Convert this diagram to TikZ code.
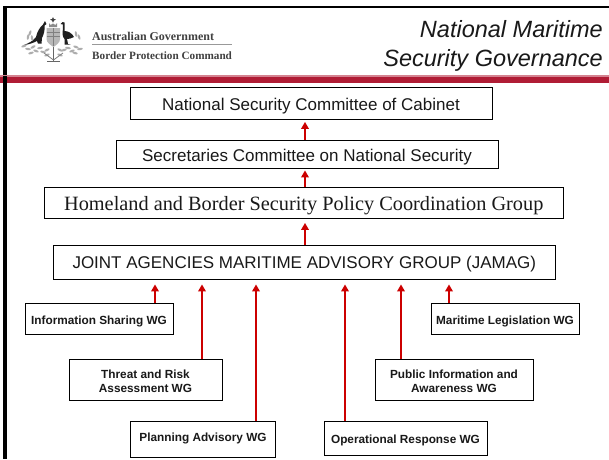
\documentclass[tikz,border=0pt]{standalone}
\usepackage{fontspec}
\setmainfont{Liberation Sans}
\newfontfamily\timesf{Liberation Serif}
\definecolor{bandred}{HTML}{B01C35}
\definecolor{arrowred}{HTML}{CC0000}
\usetikzlibrary{arrows.meta}
\newcommand{\lowered}[2]{\raisebox{-#1pt}[0pt][0pt]{#2}}
\newcommand{\twolines}[2]{\raisebox{-6pt}[0pt][0pt]{\begin{tabular}{@{}c@{}}#1\\#2\end{tabular}}}
\tikzset{
  x=1pt,y=-1pt,
  govbox/.style={draw=black,line width=0.8pt,fill=white,inner sep=0pt,align=center,font=\fontsize{17}{19}\selectfont,text=black!90},
  wgbox/.style={draw=black,line width=0.8pt,fill=white,inner sep=0pt,align=center,font=\fontsize{11.8}{14}\selectfont\bfseries,text=black!90},
  uparrow/.style={draw=arrowred,line width=2.6pt,-{Triangle[length=7pt,width=7.5pt,fill=arrowred]}},
  logotext/.style={inner sep=0pt,anchor=west,font=\timesf\bfseries\selectfont,text=black!75},
  titletext/.style={inner sep=0pt,anchor=east,font=\fontsize{23.5}{27}\selectfont\itshape,text=black!90}
}
\begin{document}
\begin{tikzpicture}
\useasboundingbox (0,0) rectangle (609,459);
\fill[white] (0,0) rectangle (609,459);
% frame
\fill[black] (3.3,6) rectangle (609,8.3);
\fill[black] (3.3,6) rectangle (6.5,459);
% band
\fill[bandred!55!white] (0,75) rectangle (609,77);
\fill[bandred] (0,76.5) rectangle (609,83);
\fill[black] (3.3,76) rectangle (6.5,83);
% crest
\fill[black!75] (53,17) -- (54,19) -- (56,19.5) -- (54,20.5) -- (53,22.5) -- (52,20.5) -- (50,19.5) -- (52,19) -- cycle;
\fill[black!45] (49,23) -- (50.5,25) -- (53,23.5) -- (55.5,25) -- (57,23) -- (57,27) -- (49,27) -- cycle;
\fill[black!28] (46.5,28) -- (60,28) -- (60,39) .. controls (60,43) and (56,45) .. (53.5,47) .. controls (51,45) and (46.5,43) .. (46.5,39) -- cycle;
\draw[black!50,line width=.7pt] (53.5,28) -- (53.5,46) (46.5,36) -- (60,36) (46.5,32) -- (60,32);
% kangaroo
\fill[black!88] (45,21) -- (46.5,24) -- (44.5,25.5) .. controls (45,30) and (44,34) .. (42,38) -- (41.5,43.5) -- (38,43.5) -- (37,41) .. controls (33,43) and (29,44.5) .. (24,45) .. controls (29,43) and (33,41) .. (36,37) .. controls (37,32) and (40,27) .. (43,24.5) -- cycle;
% emu
\fill[black!88] (62.5,22) -- (64.5,22.5) -- (64.5,24.5) -- (64.5,31) .. controls (68,31) and (72,33) .. (74,37) .. controls (71,38.5) and (69,39) .. (67,39) -- (68,44) -- (70.5,44.5) -- (64.5,44.5) -- (64.5,39) .. controls (62.5,37) and (62,33) .. (63,29) -- (62.8,24.5) -- (60.5,24) -- cycle;
\foreach \px/\py/\ang in {24/46/20,28/49/-10,33/47/30,36/51/-20,40/48/10,31/53/15,43/52/-15,47/50/25,60/50/-25,64/50/15,68/48/-10,72/51/20,76/47/-20,80/49/10,75/53/-15,28/37/80,30/33/70,32/38/100,76/34/100,79/37/110,47/55/20,60/55/-20}
  \fill[black!32,rotate around={\ang:(\px,\py)}] (\px,\py) ellipse (2.8 and 1.2);
\draw[black!60,line width=1pt] (53.5,47) -- (53.5,61) (47,61) -- (60,61);
\draw[black!50,line width=.8pt] (53.5,60) -- (44,53) (53.5,60) -- (63,53);
% logo text
\node[logotext,font=\timesf\bfseries\fontsize{11.95}{13}\selectfont] (gov) at (92,36) {Australian Government};
\node[logotext,font=\timesf\bfseries\fontsize{11.2}{13}\selectfont] (bpc) at (92,55.5) {Border Protection Command};
\draw[black!40,line width=.9pt] (92,44.5) -- (232,44.5);
% title
\node[titletext] (t1) at (603,29.5) {National Maritime};
\node[titletext] (t2) at (603,60) {Security Governance};
% boxes
\node[govbox,minimum width=362pt,minimum height=32pt] (nsc) at (311,103) {\lowered{7}{National Security Committee of Cabinet}};
\node[govbox,minimum width=382pt,minimum height=28pt] (scns) at (307,154) {\lowered{7}{Secretaries Committee on National Security}};
\node[govbox,minimum width=519.5pt,minimum height=31pt,font=\timesf\fontsize{20.3}{22}\selectfont] (hb) at (303.75,202.5) {\lowered{7.5}{Homeland and Border Security Policy Coordination Group}};
\node[govbox,minimum width=501.5pt,minimum height=34pt] (jamag) at (304.25,262) {\lowered{6.3}{JOINT AGENCIES MARITIME ADVISORY GROUP (JAMAG)}};
\node[wgbox,minimum width=148pt,minimum height=31pt] (info) at (99,318.5) {\lowered{5.8}{Information Sharing WG}};
\node[wgbox,minimum width=153pt,minimum height=41pt] (threat) at (145.5,380) {\twolines{Threat and Risk}{Assessment WG}};
\node[wgbox,minimum width=145pt,minimum height=36pt] (plan) at (203,439) {\lowered{2.5}{Planning Advisory WG}};
\node[wgbox,minimum width=163pt,minimum height=34pt] (oper) at (405.5,438) {\lowered{5.3}{Operational Response WG}};
\node[wgbox,minimum width=158pt,minimum height=41pt] (pub) at (454,380) {\twolines{Public Information and}{Awareness WG}};
\node[wgbox,minimum width=148pt,minimum height=31pt] (mar) at (505,318.5) {\lowered{5.8}{Maritime Legislation WG}};
% x positions of arrows
\coordinate (xc) at (305,0);
\coordinate (xa) at (155,0);
\coordinate (xb) at (202,0);
\coordinate (xd) at (256,0);
\coordinate (xe) at (345,0);
\coordinate (xf) at (401,0);
\coordinate (xg) at (449,0);
% arrows
\draw[uparrow,shorten >=2.5pt] (scns.north -| xc) -- (nsc.south -| xc);
\draw[uparrow,shorten >=2pt] (hb.north -| xc) -- (scns.south -| xc);
\draw[uparrow,shorten >=4.5pt] (jamag.north -| xc) -- (hb.south -| xc);
\draw[uparrow,shorten >=5pt] (info.north -| xa) -- (jamag.south -| xa);
\draw[uparrow,shorten >=5pt] (threat.north -| xb) -- (jamag.south -| xb);
\draw[uparrow,shorten >=5pt] (plan.north -| xd) -- (jamag.south -| xd);
\draw[uparrow,shorten >=5pt] (oper.north -| xe) -- (jamag.south -| xe);
\draw[uparrow,shorten >=5pt] (pub.north -| xf) -- (jamag.south -| xf);
\draw[uparrow,shorten >=5pt] (mar.north -| xg) -- (jamag.south -| xg);
\end{tikzpicture}
\end{document}
